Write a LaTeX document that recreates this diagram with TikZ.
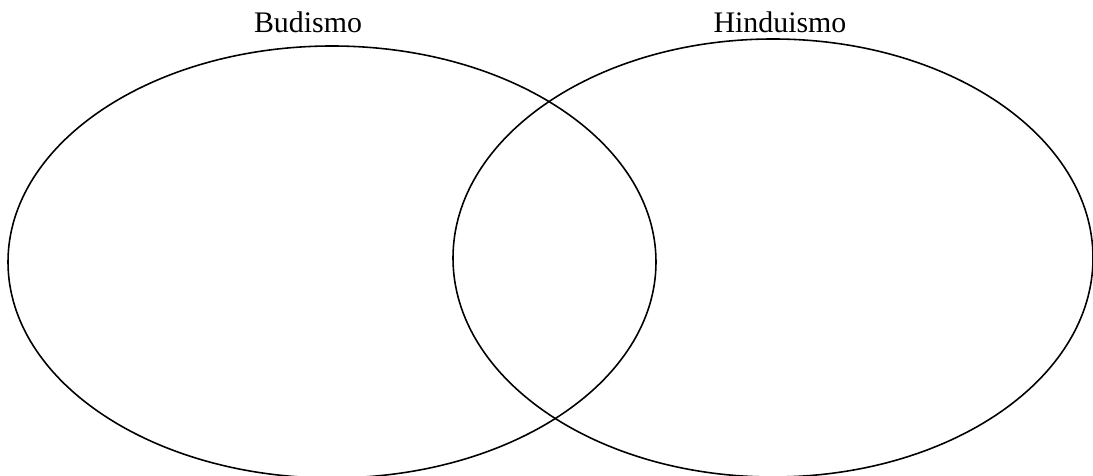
\documentclass[tikz,border=0pt]{standalone}
\usepackage{fontspec}
\setmainfont{Liberation Serif}
\begin{document}
\begin{tikzpicture}[x=0.02cm, y=0.02cm]
    \useasboundingbox (0,0) rectangle (1093,476);
    \clip (0,0) rectangle (1093,476);

    % Sets
    \draw[line width=0.9pt] (332,214) ellipse (324 and 216);
    \draw[line width=0.9pt] (773,218) ellipse (320 and 219);

    % Labels
    \node[anchor=base, inner sep=0pt, font=\fontsize{17}{20}\selectfont] (budismo) at (308,443) {Budismo};
    \node[anchor=base, inner sep=0pt, font=\fontsize{17}{20}\selectfont] (hinduismo) at (780,443) {Hinduismo};
\end{tikzpicture}
\end{document}
